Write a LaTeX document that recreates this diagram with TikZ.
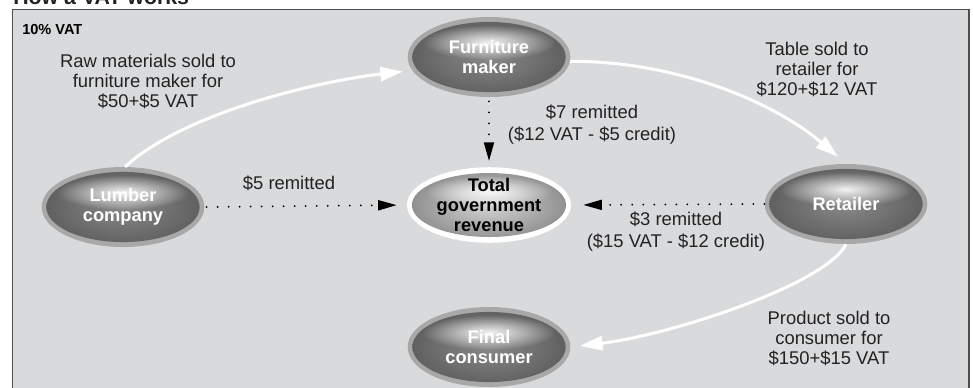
\documentclass[tikz,border=0pt]{standalone}
\usepackage{fontspec}
\setmainfont{Liberation Sans}
\usetikzlibrary{arrows.meta,shapes.geometric,fadings,calc}
\definecolor{bg}{HTML}{D9DADC}
\definecolor{framecol}{HTML}{4D4D4D}
\definecolor{ringcol}{HTML}{A8A8A8}
\definecolor{darkout}{HTML}{5E5E5E}
\definecolor{darkmid}{HTML}{888888}
\definecolor{lightout}{HTML}{8C8C8C}
\definecolor{lightmid}{HTML}{D4D4D4}
\definecolor{txt}{HTML}{222222}
\tikzfading[name=glow, inner color=transparent!0, outer color=transparent!100]
\begin{document}
\begin{tikzpicture}[x=0.75pt,y=-0.75pt,
  darknode/.style={ellipse, draw=none, fill=ringcol, minimum width=122pt, minimum height=60pt,
    inner sep=0pt, text=white, align=center, font=\fontsize{13.7}{15}\selectfont\bfseries,
    path picture={
      \shade[inner color=darkmid, outer color=darkout] (path picture bounding box.center) ellipse [x radius=57.5pt, y radius=26.3pt];
      \fill[white, opacity=0.9, path fading=glow] ($(path picture bounding box.center)+(0pt,11pt)$) ellipse [x radius=50pt, y radius=13pt];
    }},
  lightnode/.style={ellipse, draw=none, fill=white, minimum width=123pt, minimum height=55.5pt,
    inner sep=0pt, text=black, align=center, font=\fontsize{13.7}{15}\selectfont\bfseries,
    path picture={
      \shade[inner color=lightmid, outer color=lightout] (path picture bounding box.center) ellipse [x radius=57.8pt, y radius=24pt];
      \fill[white, opacity=0.9, path fading=glow] ($(path picture bounding box.center)+(0pt,10pt)$) ellipse [x radius=48pt, y radius=12pt];
    }},
  lbl/.style={text=txt, align=center, inner sep=0pt, font=\fontsize{13.8}{15}\selectfont},
  lbltwo/.style={lbl, font=\fontsize{13.8}{16.5}\selectfont},
  whitearrow/.style={draw=white, line width=2.25pt, -{Triangle[length=17pt,width=10.5pt]}},
  dotarrow/.style={draw=black, line width=1.5pt, line cap=round, dash pattern=on 0.01pt off 8.25pt,
    -{Triangle[length=14pt,width=7.5pt]}}
]
\useasboundingbox (0,0) rectangle (973,387);
\fill[white] (0,0) rectangle (973,387);
\node[anchor=base west, inner sep=0pt, text=txt, font=\fontsize{16}{16}\selectfont\bfseries] (title) at (13,4) {How a VAT works};
\draw[framecol, line width=1.1pt, fill=bg] (12.5,9.5) rectangle (969,400);
\node[anchor=west, inner sep=0pt, text=black, font=\fontsize{10.9}{12}\selectfont\bfseries] (vat) at (22,29) {10\% VAT};

\node[darknode] (lumber) at (123,207) {Lumber\\company};
\node[darknode] (furn) at (489,57) {Furniture\\maker};
\node[darknode] (retail) at (846,204) {Retailer};
\node[darknode] (final) at (489,347) {Final\\consumer};
\node[lightnode] (total) at (489,205) {Total\\government\\revenue};

\node[lbl] (rawtxt) at (148,81) {Raw materials sold to\\furniture maker for\\\$50+\$5 VAT};
\node[lbl] (tabletxt) at (817,69) {Table sold to\\retailer for\\\$120+\$12 VAT};
\node[lbltwo] (seventxt) at (592,125) {\$7 remitted\\(\$12 VAT - \$5 credit)};
\node[lbl] (fivetxt) at (289,183) {\$5 remitted};
\node[lbltwo] (threetxt) at (676,232) {\$3 remitted\\(\$15 VAT - \$12 credit)};
\node[lbl] (prodtxt) at (829,338) {Product sold to\\consumer for\\\$150+\$15 VAT};

\draw[whitearrow, shorten >=7pt] (lumber.87) .. controls +(60,-55) and +(-90,10) .. (furn.190);
\draw[whitearrow, shorten >=8pt] (furn.-3) .. controls +(110,0) and +(-70,-60) .. (retail.north);
\draw[whitearrow, shorten >=7pt] (retail.south) .. controls +(-20,40) and +(100,-12) .. (final.east);

\draw[dotarrow, shorten >=7.5pt, shorten <=1.5pt] (lumber.east) -- (total.west);
\draw[dotarrow, shorten >=9pt] (retail.west) -- (total.east);
\draw[dotarrow, shorten >=4.5pt, shorten <=3pt] (furn.south) -- (total.north);
\end{tikzpicture}
\end{document}
